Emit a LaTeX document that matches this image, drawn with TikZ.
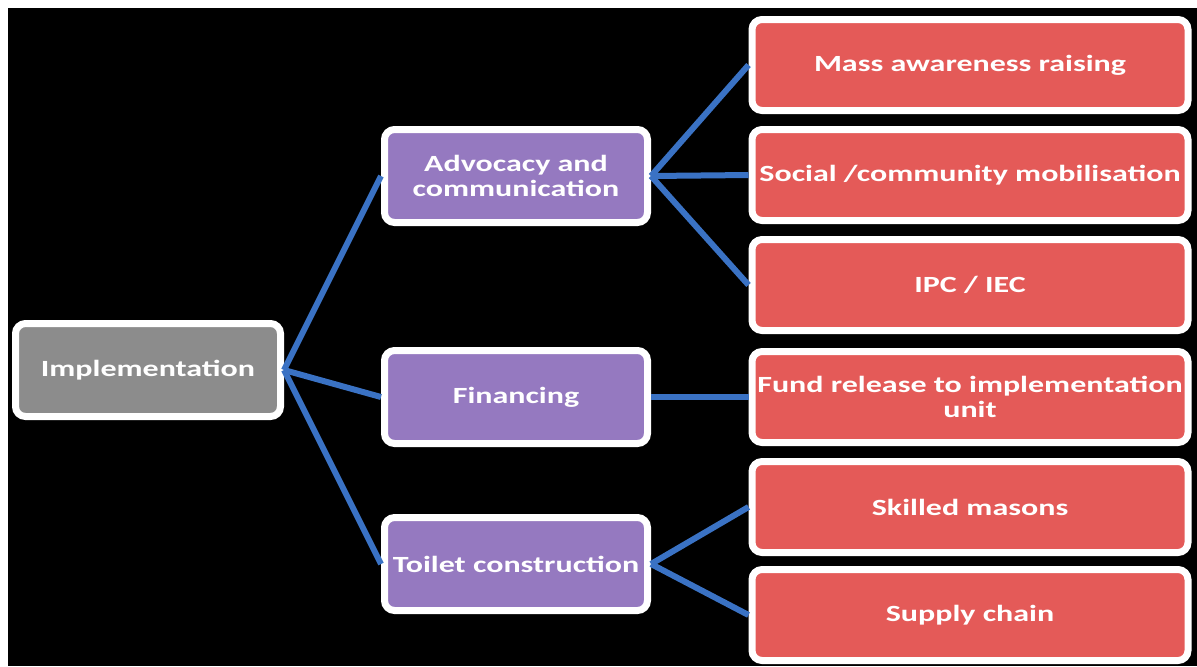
\documentclass[tikz,border=0pt]{standalone}
\usepackage{fontspec}
\setmainfont{Carlito}[FakeStretch=1.38]

\definecolor{implgray}{RGB}{140,140,140}
\definecolor{stagepurple}{RGB}{149,121,192}
\definecolor{taskred}{RGB}{228,90,88}
\definecolor{linkblue}{RGB}{58,114,196}

\begin{document}
\begin{tikzpicture}[x=0.5pt,y=-0.5pt,
  box/.style={draw=white, line width=3.5pt, rounded corners=5pt, text=white,
    align=center, inner sep=0pt, font=\fontsize{11.6}{12.5}\selectfont\bfseries},
  root/.style={box, fill=implgray, minimum width=132.5pt, minimum height=46.5pt},
  stage/.style={box, fill=stagepurple, minimum width=131.5pt, minimum height=46.5pt},
  task/.style={box, fill=taskred, minimum width=218pt, minimum height=45.5pt},
  link/.style={draw=linkblue, line width=3pt}]
  % Background
  \fill[white] (0,0) rectangle (1197,666);
  \fill[black] (8,8) rectangle (1197,666);

  % Root
  \node[root] (impl) at (148,370) {Implementation};

  % Stages
  \node[stage] (advocacy) at (516,176) {Advocacy and\\communication};
  \node[stage] (financing) at (516,397) {Financing};
  \node[stage] (toilet) at (516,564) {Toilet construction};

  % Tasks
  \node[task] (mass) at (970,65) {Mass awareness raising};
  \node[task] (social) at (970,175) {Social /community mobilisation};
  \node[task] (ipc) at (970,285) {IPC / IEC};
  \node[task] (fund) at (970,397) {Fund release to implementation\\unit};
  \node[task] (masons) at (970,507) {Skilled masons};
  \node[task] (supply) at (970,615) {Supply chain};

  % Connectors
  \foreach \s in {advocacy,financing,toilet}
    \draw[link] (impl.east) -- (\s.west);
  \foreach \t in {mass,social,ipc}
    \draw[link] (advocacy.east) -- (\t.west);
  \draw[link] (financing.east) -- (fund.west);
  \foreach \t in {masons,supply}
    \draw[link] (toilet.east) -- (\t.west);
\end{tikzpicture}
\end{document}
